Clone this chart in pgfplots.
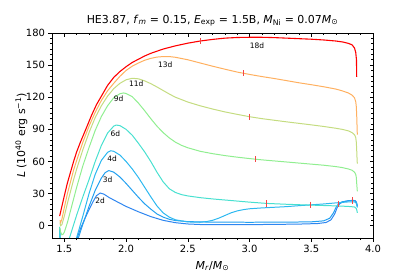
\documentclass[border=0pt]{standalone}
\usepackage{fontspec}
\setmainfont{DejaVu Sans}
\usepackage{pgfplots}
\pgfplotsset{compat=1.18}
\definecolor{c2}{RGB}{46,134,240}
\definecolor{c3}{RGB}{34,160,240}
\definecolor{c4}{RGB}{44,184,240}
\definecolor{c6}{RGB}{72,224,208}
\definecolor{c9}{RGB}{144,238,144}
\definecolor{c11}{RGB}{196,220,128}
\definecolor{c13}{RGB}{255,176,96}
\definecolor{c18}{RGB}{255,0,0}
\definecolor{tk}{RGB}{245,70,70}
\begin{document}
\begin{tikzpicture}
\useasboundingbox (-52bp,-39bp) rectangle (363bp,238bp);
\pgfplotsset{myaxis/.style={
 at={(0,0)}, anchor=south west, scale only axis, width=321bp, height=205bp,
 xmin=1.4, xmax=4.0, ymin=-11.5, ymax=180,
 xtick={1.5,2.0,2.5,3.0,3.5,4.0}, ytick={0,30,...,180},
 minor x tick num=4, minor y tick num=5,
 major tick length=3.5bp, minor tick length=2bp,
 every tick/.style={black, line width=0.6pt},
 axis line style={line width=0.8pt},
 ticklabel style={font=\fontsize{10}{12}\selectfont},
 x tick label style={/pgf/number format/fixed, /pgf/number format/fixed zerofill, /pgf/number format/precision=1},
 /pgf/number format/assume math mode=true,
}}
\begin{axis}[myaxis, tick align=inside, xtick pos=right, ytick pos=right, xticklabels={}, yticklabels={}]
\end{axis}
\begin{axis}[myaxis, tick align=outside, xtick pos=left, ytick pos=left,
 title={HE3.87, \textit{f}\textsubscript{\textit{m}} = 0.15, \textit{E}\textsubscript{exp} = 1.5B, \textit{M}\textsubscript{Ni} = 0.07\textit{M}\textsubscript{⊙}},
 title style={at={(0.5,1)}, anchor=base, yshift=4bp, inner sep=0pt, font=\fontsize{11}{13}\selectfont},
 xlabel={\textit{M}\textsubscript{\textit{r}}/\textit{M}\textsubscript{⊙}},
 ylabel={\textit{L} (10\textsuperscript{40} erg s\textsuperscript{−1})},
 xlabel style={at={(0.5,0)}, anchor=base, yshift=-31bp, inner sep=0pt, font=\fontsize{11}{13}\selectfont},
 ylabel style={at={(axis description cs:-0.095,0.5)}, anchor=center, inner sep=0pt, font=\fontsize{11}{13}\selectfont},
 every axis plot/.append style={line width=1pt},
 clip=true,
]
\addplot[c2] coordinates {(1.462,-3) (1.466,-14) (1.6,-14) (1.605,-11) (1.63,-3) (1.66,5) (1.7,15) (1.73,22) (1.76,28) (1.79,30.5) (1.82,29.5) (1.86,26.5) (1.9,24) (1.95,21) (2.0,18) (2.1,13) (2.2,8.5) (2.3,5) (2.4,2.8) (2.5,1.6) (2.6,1.1) (2.8,0.9) (3.0,1.0) (3.2,1.2) (3.4,1.5) (3.55,2) (3.62,3) (3.66,5.5) (3.69,11) (3.71,17) (3.73,20.5) (3.76,22.3) (3.8,23.3) (3.83,23.6) (3.855,23.5) (3.865,22) (3.87,20) (3.873,18)};
\addplot[c3] coordinates {(1.462,-3) (1.466,-14) (1.61,-14) (1.615,-11) (1.64,-2) (1.67,8) (1.7,18) (1.75,33) (1.8,44.5) (1.83,49.5) (1.86,51.5) (1.9,50) (1.95,45.5) (2.0,39.5) (2.05,33) (2.1,26.5) (2.15,20.5) (2.2,15.5) (2.25,11) (2.3,8) (2.35,6) (2.4,4.8) (2.5,3.8) (2.7,3.3) (3.0,3.2) (3.3,3.3) (3.5,3.6) (3.6,4.5) (3.65,7) (3.68,12) (3.7,17) (3.72,20.5) (3.75,22.3) (3.8,23.3) (3.85,23.5) (3.865,22) (3.87,20) (3.873,18)};
\addplot[c4] coordinates {(1.462,-2) (1.466,-14) (1.595,-14) (1.6,-11) (1.625,-1) (1.65,9) (1.7,30) (1.75,48) (1.8,61) (1.85,68.5) (1.875,70) (1.9,69.5) (1.95,66) (2.0,60) (2.05,53) (2.1,45) (2.15,36) (2.2,27) (2.25,18.5) (2.3,12) (2.35,8) (2.4,5.5) (2.5,3.5) (2.6,3.2) (2.65,3.8) (2.7,5) (2.75,7) (2.8,9.5) (2.85,12) (2.9,13.8) (2.95,15) (3.0,15.8) (3.1,16.6) (3.2,17.2) (3.3,17.8) (3.4,18.7) (3.49,19.4) (3.6,20.3) (3.7,21.3) (3.8,22.2) (3.85,22.3) (3.865,21) (3.87,19) (3.873,17)};
\addplot[c6] coordinates {(1.462,-1) (1.466,-14) (1.535,-14) (1.54,-12) (1.57,-1) (1.6,10) (1.65,27) (1.7,43) (1.75,60) (1.8,75) (1.85,86.5) (1.9,93) (1.92,94) (1.95,93.5) (2.0,90) (2.05,84.5) (2.1,77) (2.15,69) (2.2,60) (2.25,50) (2.3,41) (2.35,34.5) (2.4,31) (2.45,29) (2.5,27.8) (2.6,26.2) (2.7,25) (2.8,24) (2.9,23) (3.0,22) (3.14,20.8) (3.3,20) (3.5,19.2) (3.7,18.5) (3.8,18) (3.85,17.5) (3.865,16) (3.87,14) (3.873,12)};
\addplot[c9] coordinates {(1.464,-2) (1.47,-6) (1.48,-8.5) (1.49,-8) (1.5,-6) (1.525,3) (1.55,14) (1.575,25) (1.6,36) (1.65,56) (1.7,73) (1.75,89) (1.8,102) (1.85,112) (1.9,119.5) (1.95,123.3) (1.98,124) (2.0,123.5) (2.05,120.5) (2.1,114.5) (2.15,107.5) (2.2,100) (2.25,93) (2.3,87) (2.35,82) (2.4,78) (2.45,75) (2.5,72.8) (2.6,69.5) (2.7,67.3) (2.8,65.5) (2.9,64) (3.0,62.7) (3.1,61.5) (3.2,60.5) (3.3,59.5) (3.4,58.5) (3.5,57.5) (3.6,56.5) (3.7,55.2) (3.75,54.3) (3.8,53) (3.83,51.8) (3.85,50) (3.86,48) (3.865,45) (3.869,38) (3.871,35) (3.873,32)};
\addplot[c11] coordinates {(1.464,3) (1.47,0) (1.48,1) (1.5,9) (1.525,21) (1.55,32) (1.575,43) (1.6,53) (1.65,71) (1.7,87) (1.75,101) (1.8,112) (1.85,121) (1.9,128) (1.95,133) (2.0,136.3) (2.05,137.7) (2.1,137.2) (2.15,135.3) (2.2,132.7) (2.25,129.6) (2.3,126.3) (2.35,123) (2.4,120) (2.5,115.5) (2.6,112) (2.7,109) (2.8,106.3) (2.9,104) (3.0,101.8) (3.1,100) (3.2,98.5) (3.3,97) (3.4,95.6) (3.5,94.2) (3.6,92.7) (3.7,91) (3.75,90) (3.8,88.6) (3.83,87) (3.85,85) (3.86,82.5) (3.865,78) (3.869,68) (3.871,62) (3.873,58)};
\addplot[c13] coordinates {(1.464,5) (1.47,3) (1.48,6) (1.5,17) (1.525,30) (1.55,41) (1.575,52) (1.6,61) (1.65,78) (1.7,93) (1.75,106) (1.8,117) (1.85,126) (1.9,133) (1.95,139.5) (2.0,145) (2.05,149) (2.1,152) (2.15,154.5) (2.2,156.3) (2.25,157.5) (2.3,158) (2.35,158) (2.4,157.3) (2.5,155) (2.6,152) (2.7,149) (2.8,146.2) (2.9,143.5) (3.0,141.3) (3.1,139.3) (3.2,137.5) (3.3,135.5) (3.4,133.5) (3.5,131.7) (3.6,129.8) (3.7,127.6) (3.75,126) (3.8,124) (3.83,122) (3.85,119.5) (3.86,116) (3.865,111) (3.869,100) (3.871,92) (3.873,85)};
\addplot[c18, line width=1.1pt] coordinates {(1.462,9) (1.48,18) (1.5,28) (1.525,40) (1.55,50) (1.575,60) (1.6,69) (1.63,78) (1.67,89) (1.72,103) (1.76,113) (1.8,121) (1.85,131) (1.9,138.5) (1.95,144) (2.0,148.5) (2.05,152.5) (2.1,155.5) (2.15,158.5) (2.2,161) (2.3,165) (2.4,168) (2.5,170.5) (2.6,172.5) (2.7,174) (2.8,175.2) (2.9,175.8) (3.0,176) (3.1,176) (3.2,175.7) (3.3,175.2) (3.4,174.7) (3.5,174.2) (3.6,173.5) (3.7,172.5) (3.76,171.5) (3.8,170.3) (3.83,169) (3.85,166) (3.86,162) (3.866,155) (3.868,139)};
\addplot[only marks, mark=|, mark size=3.2bp, color=tk, mark options={draw=tk, line width=0.8pt}] coordinates {(2.6,172.5) (2.95,142.4) (3.0,101.8) (3.05,62.1) (3.14,20.8) (3.49,19.4) (3.72,20.5) (3.83,23.6)};
\begin{scope}[every node/.style={font=\fontsize{7.5}{9}\selectfont, inner sep=0pt}]
\node at (axis cs:3.06,168.5) {18d};
\node at (axis cs:2.317,150) {13d};
\node at (axis cs:2.083,133) {11d};
\node at (axis cs:1.94,118.3) {9d};
\node at (axis cs:1.913,86.3) {6d};
\node at (axis cs:1.886,63) {4d};
\node at (axis cs:1.85,43.3) {3d};
\node at (axis cs:1.79,23.4) {2d};
\end{scope}
\end{axis}
\end{tikzpicture}
\end{document}
